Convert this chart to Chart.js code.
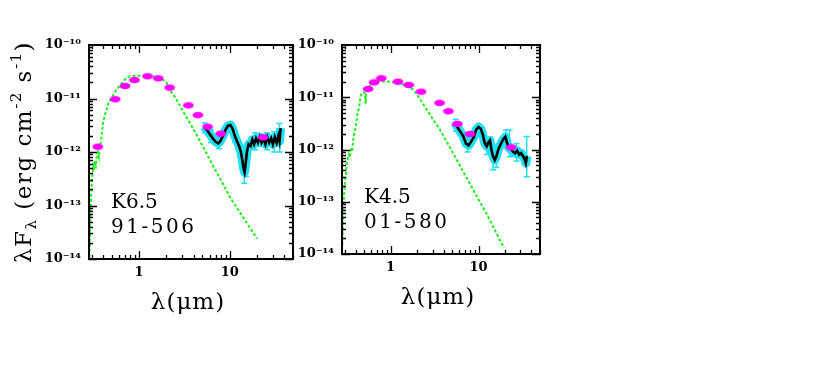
<!DOCTYPE html>
<html><head><meta charset="utf-8">
<script src="https://cdn.jsdelivr.net/npm/chart.js@4.4.0/dist/chart.umd.min.js"></script>
<style>
html,body{margin:0;padding:0;background:#fff;}
#wrap{position:relative;width:830px;height:369px;overflow:hidden;background:#fff;}
canvas{position:absolute;top:0;}
#cA{left:0;} #cB{left:290px;}
</style></head><body>
<div id="wrap"><canvas id="cA" width="300" height="369"></canvas><canvas id="cB" width="260" height="369"></canvas></div>
<script>
// ---------- axis ranges & tick labels ----------
const xMin = 0.28, xMax = 50, yMin = 1e-14, yMax = 1e-10;
const xLabelValues = [1, 10];
const yDecades = [-14, -13, -12, -11, -10];
const xTitle = 'λ(μm)';
const yTitleParts = [['λF', 0], ['λ', 1], [' (erg cm', 0], ['-2', -1], [' s', 0], ['-1', -1], [')', 0]];

// ---------- left panel: K6.5 91-506 ----------
const leftName = ['K6.5', '91-506'];
const leftPhotX = [0.35, 0.545, 0.70, 0.89, 1.24, 1.63, 2.17, 3.5, 4.46, 5.7, 7.94, 23.4];
const leftPhotY = [1.26e-12, 9.7e-12, 1.71e-11, 2.22e-11, 2.6e-11, 2.38e-11, 1.6e-11, 7.45e-12, 4.9e-12, 2.97e-12, 2.2e-12, 1.88e-12];
const leftModelX = [0.283, 0.287, 0.292, 0.298, 0.305, 0.312, 0.318, 0.325, 0.333, 0.34, 0.35, 0.36, 0.37, 0.38, 0.39, 0.40, 0.42, 0.44, 0.46, 0.48, 0.50, 0.53, 0.56, 0.60, 0.65, 0.70, 0.75, 0.80, 0.90, 1.0, 1.2, 1.4, 1.6, 1.8, 2.0, 2.26, 2.5, 2.79, 3.2, 3.6, 4.04, 5.0, 6.0, 6.63, 7.0, 8.0, 10, 12, 14, 16, 18, 20];
const leftModelY = [1.1e-14, 3e-14, 9e-14, 2e-13, 3.5e-13, 5.3e-13, 4.5e-13, 6e-13, 5.5e-13, 8e-13, 1.0e-12, 8e-13, 1.3e-12, 1.6e-12, 2.3e-12, 3.5e-12, 5e-12, 6.3e-12, 8.5e-12, 9.4e-12, 1.05e-11, 1.25e-11, 1.45e-11, 1.66e-11, 1.95e-11, 2.3e-11, 2.5e-11, 2.62e-11, 2.67e-11, 2.66e-11, 2.63e-11, 2.6e-11, 2.5e-11, 2.3e-11, 2.0e-11, 1.34e-11, 1.05e-11, 7.6e-12, 5.0e-12, 3.6e-12, 2.58e-12, 1.31e-12, 7.4e-13, 5.3e-13, 4.5e-13, 3.0e-13, 1.46e-13, 9.1e-14, 6.1e-14, 4.3e-14, 3.2e-14, 2.4e-14];
const leftSpecX = [5.2, 5.6, 6.0, 6.5, 7.0, 7.5, 7.9, 8.4, 9.0, 9.6, 10.2, 10.8, 11.4, 12.0, 12.7, 13.3, 13.8, 14.2, 14.6, 15.0, 15.5, 16.2, 17.0, 17.8, 18.6, 19.5, 20.5, 21.5, 22.5, 23.6, 24.8, 26.0, 27.3, 28.7, 30.0, 31.5, 33.0, 34.5, 35.5, 36.5];
const leftSpecY = [3.0e-12, 2.6e-12, 2.2e-12, 1.8e-12, 1.55e-12, 1.45e-12, 1.6e-12, 2.0e-12, 2.6e-12, 3.1e-12, 3.2e-12, 2.7e-12, 2.0e-12, 1.6e-12, 1.3e-12, 1.0e-12, 7e-13, 5e-13, 4.2e-13, 6e-13, 1.0e-12, 1.4e-12, 1.3e-12, 1.7e-12, 1.4e-12, 1.8e-12, 1.5e-12, 1.9e-12, 1.5e-12, 1.8e-12, 1.4e-12, 1.9e-12, 1.5e-12, 1.8e-12, 1.4e-12, 1.9e-12, 1.5e-12, 2.0e-12, 1.6e-12, 2.8e-12];
const leftErrX = [5.3, 6.2, 7.6, 11.5, 14.5, 15.2, 19, 26, 31, 35.5];
const leftErrHi = [3.5e-12, 2.6e-12, 1.9e-12, 2.5e-12, 8e-13, 1.0e-12, 2.3e-12, 2.3e-12, 2.4e-12, 3.4e-12];
const leftErrLo = [2.3e-12, 1.5e-12, 1.15e-12, 1.5e-12, 2.6e-13, 3.5e-13, 1.1e-12, 1.1e-12, 1.0e-12, 1.0e-12];

// ---------- right panel: K4.5 01-580 ----------
const rightName = ['K4.5', '01-580'];
const rightPhotX = [0.555, 0.648, 0.785, 1.21, 1.61, 2.22, 3.6, 4.54, 5.74, 7.98, 23.5];
const rightPhotY = [1.44e-11, 1.93e-11, 2.31e-11, 1.99e-11, 1.72e-11, 1.28e-11, 7.8e-12, 5.4e-12, 3.09e-12, 1.99e-12, 1.1e-12];
const rightModelX = [0.283, 0.286, 0.29, 0.296, 0.303, 0.31, 0.318, 0.326, 0.335, 0.345, 0.355, 0.365, 0.375, 0.385, 0.40, 0.41, 0.42, 0.435, 0.45, 0.46, 0.47, 0.49, 0.51, 0.52, 0.53, 0.56, 0.60, 0.65, 0.70, 0.77, 0.9, 1.0, 1.2, 1.4, 1.6, 1.8, 2.0, 2.3, 2.59, 3.0, 3.66, 4.0, 5.0, 5.65, 6.0, 7.0, 8.0, 8.7, 10, 12, 13.4, 15, 17, 19.5];
const rightModelY = [1.5e-14, 3e-14, 7e-14, 1.4e-13, 2.5e-13, 3.5e-13, 5.5e-13, 6.5e-13, 8e-13, 7e-13, 1.1e-12, 9e-13, 1.5e-12, 2e-12, 2.7e-12, 3.5e-12, 5e-12, 6e-12, 9e-12, 1.1e-11, 1.2e-11, 1.25e-11, 1.2e-11, 7.5e-12, 1.3e-11, 1.55e-11, 1.72e-11, 1.85e-11, 1.95e-11, 2.0e-11, 2.0e-11, 1.97e-11, 1.87e-11, 1.75e-11, 1.6e-11, 1.4e-11, 1.12e-11, 7.8e-12, 5.7e-12, 3.9e-12, 2.37e-12, 1.8e-12, 9.2e-13, 6.3e-13, 5.2e-13, 3.3e-13, 2.2e-13, 1.69e-13, 1.1e-13, 6.4e-14, 4.5e-14, 3.1e-14, 2.0e-14, 1.3e-14];
const rightSpecX = [5.4, 5.8, 6.2, 6.7, 7.2, 7.7, 8.2, 8.8, 9.4, 10.0, 10.6, 11.2, 11.8, 12.4, 13.0, 13.5, 14.0, 14.6, 15.3, 16.0, 16.8, 17.6, 18.4, 19.3, 20.2, 21.2, 22.3, 23.5, 24.8, 26.0, 27.5, 29.0, 30.5, 32.0, 33.5, 34.5, 35.5];
const rightSpecY = [3.2e-12, 2.6e-12, 2.2e-12, 1.8e-12, 1.3e-12, 1.2e-12, 1.4e-12, 1.7e-12, 2.4e-12, 2.7e-12, 2.5e-12, 1.9e-12, 1.3e-12, 1.15e-12, 1.4e-12, 1.5e-12, 1.0e-12, 7.5e-13, 6.3e-13, 7.5e-13, 1.0e-12, 1.2e-12, 1.4e-12, 1.6e-12, 1.75e-12, 1.3e-12, 1.05e-12, 1.0e-12, 9e-13, 8.5e-13, 9.5e-13, 8e-13, 8.5e-13, 7.5e-13, 6.5e-13, 5.5e-13, 7.5e-13];
const rightErrX = [5.5, 7.5, 12.4, 14.6, 16.0, 20.5, 22.5, 27, 35.3];
const rightErrHi = [3.8e-12, 1.7e-12, 1.6e-12, 1.22e-12, 1.1e-12, 2.4e-12, 2.37e-12, 1.3e-12, 1.77e-12];
const rightErrLo = [2.2e-12, 9e-13, 8e-13, 4.1e-13, 4.5e-13, 1.2e-12, 7.3e-13, 6e-13, 3.0e-13];

// ---------- helpers ----------
const SUP = {'-': '⁻', '0': '⁰', '1': '¹', '2': '²', '3': '³', '4': '⁴', '5': '⁵', '6': '⁶', '7': '⁷', '8': '⁸', '9': '⁹'};
const sup = n => String(n).split('').map(c => SUP[c] || c).join('');
const pts = (xs, ys) => xs.map((x, i) => ({x: x, y: ys[i]}));

function ellipseStyle() {
  const c = document.createElement('canvas');
  c.width = 12; c.height = 8;
  const g = c.getContext('2d');
  g.fillStyle = '#ff00ff';
  g.beginPath(); g.ellipse(6, 4, 5.4, 3.3, 0, 0, Math.PI * 2); g.fill();
  return c;
}
const ELL = ellipseStyle();

function makeChart(id, d) {
  const framePlugin = {
    id: 'frame',
    beforeDatasetsDraw(chart) {
      const {ctx, scales: {x, y}} = chart;
      ctx.save();
      ctx.strokeStyle = '#22e0ee'; ctx.lineWidth = 1.5;
      ctx.beginPath();
      d.errX.forEach((ex, i) => {
        const px = x.getPixelForValue(ex);
        const y1 = y.getPixelForValue(d.errHi[i]), y2 = y.getPixelForValue(d.errLo[i]);
        ctx.moveTo(px, y1); ctx.lineTo(px, y2);
        ctx.moveTo(px - 3, y1); ctx.lineTo(px + 3, y1);
        ctx.moveTo(px - 3, y2); ctx.lineTo(px + 3, y2);
      });
      ctx.stroke();
      ctx.restore();
    },
    afterDatasetsDraw(chart) {
      const {ctx, chartArea: a, scales: {x, y}} = chart;
      ctx.save();
      ctx.strokeStyle = '#000'; ctx.lineWidth = 1.3;
      ctx.beginPath();
      for (let e = -1; e <= 1; e++) for (let m = 1; m <= 9; m++) {
        const v = m * Math.pow(10, e);
        if (v < xMin || v > xMax) continue;
        const px = Math.round(x.getPixelForValue(v)) + 0.5, L = m === 1 ? 8 : 4;
        ctx.moveTo(px, a.bottom); ctx.lineTo(px, a.bottom - L);
        ctx.moveTo(px, a.top); ctx.lineTo(px, a.top + L);
      }
      for (let e = -14; e <= -11; e++) for (let m = 1; m <= 9; m++) {
        const v = m * Math.pow(10, e);
        const py = Math.round(y.getPixelForValue(v)) + 0.5, L = m === 1 ? 8 : 4;
        ctx.moveTo(a.left, py); ctx.lineTo(a.left + L, py);
        ctx.moveTo(a.right, py); ctx.lineTo(a.right - L, py);
      }
      ctx.stroke();
      ctx.lineWidth = 2;
      ctx.strokeRect(a.left, a.top, a.right - a.left, a.bottom - a.top);
      // titles and labels
      ctx.fillStyle = '#000';
      ctx.textBaseline = 'alphabetic';
      ctx.textAlign = 'center';
      ctx.font = '23px "DejaVu Serif"';
      ctx.letterSpacing = '1px';
      ctx.fillText(xTitle, (a.left + a.right) / 2 - 3, a.bottom + 50);
      ctx.textAlign = 'left';
      ctx.letterSpacing = '0px';
      ctx.font = '20px "DejaVu Serif"';
      ctx.fillText(d.name[0], a.left + 22, a.bottom - 51);
      ctx.letterSpacing = '2.5px';
      ctx.fillText(d.name[1], a.left + 22, a.bottom - 26);
      ctx.letterSpacing = '0px';
      if (d.yTitle) {
        ctx.translate(31, (a.top + a.bottom) / 2);
        ctx.rotate(-Math.PI / 2);
        ctx.letterSpacing = '1.5px';
        let total = 0;
        const fontFor = k => k === 0 ? '23px "DejaVu Serif"' : '15px "DejaVu Serif"';
        yTitleParts.forEach(([t, k]) => { ctx.font = fontFor(k); total += ctx.measureText(t).width; });
        let cx = -total / 2;
        yTitleParts.forEach(([t, k]) => {
          ctx.font = fontFor(k);
          ctx.fillText(t, cx, k === 1 ? 5 : (k === -1 ? -10 : 0));
          cx += ctx.measureText(t).width;
        });
      }
      ctx.restore();
    }
  };

  const tickFont = {family: '"DejaVu Serif", serif', weight: 'bold', size: 13};
  return new Chart(document.getElementById(id), {
    type: 'line',
    data: {datasets: [
      {label: 'photometry', data: pts(d.photX, d.photY), showLine: false, pointStyle: ELL, pointRadius: 6, order: 1},
      {label: 'IRS spectrum', data: pts(d.specX, d.specY), borderColor: '#000', borderWidth: 2.6, pointRadius: 0, order: 2, tension: 0},
      {label: 'IRS errors', data: pts(d.specX, d.specY), borderColor: '#22e0ee', borderWidth: 9, pointRadius: 0, order: 3, borderJoinStyle: 'round'},
      {label: 'photosphere', data: pts(d.modelX, d.modelY), borderColor: '#22ee22', borderWidth: 2, borderDash: [3, 2], pointRadius: 0, order: 4, clip: 0}
    ]},
    options: {
      animation: false, responsive: false, events: [],
      layout: {padding: {top: 45, right: d.padRight, left: 0, bottom: 0}},
      plugins: {legend: {display: false}, tooltip: {enabled: false}},
      scales: {
        x: {type: 'logarithmic', min: xMin, max: xMax,
          grid: {display: false, drawTicks: false}, border: {display: false},
          ticks: {autoSkip: false, maxRotation: 0, padding: 6, color: '#000', font: tickFont,
            callback: v => { const t = xLabelValues.find(q => Math.abs(q - v) / q < 1e-6); return t !== undefined ? String(t) : ''; }},
          afterFit: s => { s.height = d.xAxisHeight; }},
        y: {type: 'logarithmic', min: yMin, max: yMax,
          grid: {display: false, drawTicks: false}, border: {display: false},
          ticks: {autoSkip: false, padding: 8, color: '#000', font: tickFont,
            callback: v => { const l = Math.log10(v), r = Math.round(l); return (Math.abs(l - r) < 1e-6 && yDecades.includes(r)) ? '10' + sup(r) : ''; }},
          afterFit: s => { s.width = d.yAxisWidth; }}
      }
    },
    plugins: [framePlugin]
  });
}

makeChart('cA', {name: leftName, photX: leftPhotX, photY: leftPhotY, modelX: leftModelX, modelY: leftModelY,
  specX: leftSpecX, specY: leftSpecY, errX: leftErrX, errHi: leftErrHi, errLo: leftErrLo,
  padRight: 3, yAxisWidth: 89, xAxisHeight: 110, yTitle: true});
makeChart('cB', {name: rightName, photX: rightPhotX, photY: rightPhotY, modelX: rightModelX, modelY: rightModelY,
  specX: rightSpecX, specY: rightSpecY, errX: rightErrX, errHi: rightErrHi, errLo: rightErrLo,
  padRight: 10, yAxisWidth: 52, xAxisHeight: 115, yTitle: false});
</script>
</body></html>
